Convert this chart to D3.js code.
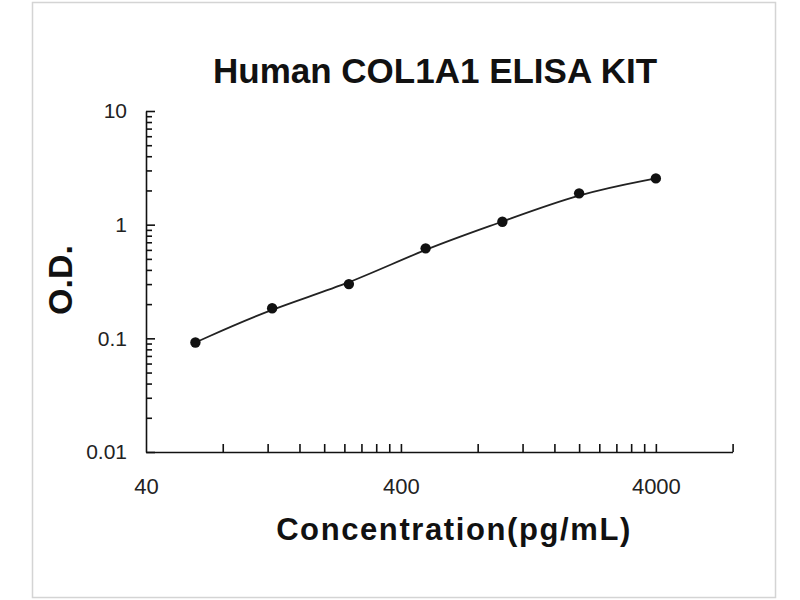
<!DOCTYPE html>
<html>
<head>
<meta charset="utf-8">
<script src="https://cdn.jsdelivr.net/npm/d3@7"></script>
<style>
  body { margin: 0; background: #fff; }
  svg text { font-family: "Liberation Sans", Arial, sans-serif; }
  .axis path, .axis line { stroke: #111; stroke-width: 1.6; }
</style>
</head>
<body>
<svg id="chart" width="800" height="600"></svg>
<script>
// Standard curve values
const concentration = [62.5, 125, 250, 500, 1000, 2000, 4000];
const od = [0.092, 0.184, 0.300, 0.619, 1.06, 1.885, 2.554];
const xTickLabels = [40, 400, 4000];
const yTickLabels = [0.01, 0.1, 1, 10];
const xDomain = [40, 8000];
const yDomain = [0.01, 10];

const svg = d3.select("#chart");

// Light frame round the whole picture
svg.append("rect")
    .attr("x", 32.5).attr("y", 2.5)
    .attr("width", 743).attr("height", 595)
    .attr("fill", "#fff")
    .attr("stroke", "#d4d4d4")
    .attr("stroke-width", 1.5);

// Set the ranges
let x = d3.scaleLog().domain(xDomain).range([146, 732.6]);
let y = d3.scaleLog().domain(yDomain).range([452, 111]);

// minor tick positions: k * decade start
let xMinor = [];
xTickLabels.forEach(function(d) {
    for (let k = 2; k <= 10; k++) {
        let v = d * k;
        if (v <= xDomain[1]) xMinor.push(v);
    }
});
let yMinor = [];
yTickLabels.slice(0, -1).forEach(function(d) {
    for (let k = 2; k <= 9; k++) yMinor.push(d * k);
});

// x axis: ticks pointing up into the plot
svg.append("g")
    .attr("class", "x axis")
    .attr("transform", "translate(0,452)")
    .call(d3.axisBottom(x).tickValues(xMinor).tickSizeInner(-8).tickSizeOuter(0).tickFormat(""));

svg.append("g")
    .attr("transform", "translate(0,452)")
    .call(d3.axisBottom(x).tickValues(xTickLabels).tickSize(0).tickPadding(26).tickFormat(d3.format("d")))
    .call(g => g.select(".domain").remove())
    .selectAll("text")
    .attr("font-size", 22)
    .attr("fill", "#222");

// y axis: major and minor ticks pointing right
svg.append("g")
    .attr("class", "y axis")
    .attr("transform", "translate(146,0)")
    .call(d3.axisLeft(y).tickValues(yMinor).tickSizeInner(-6).tickSizeOuter(0).tickFormat(""));

svg.append("g")
    .attr("class", "y axis")
    .attr("transform", "translate(146,0)")
    .call(d3.axisLeft(y).tickValues(yTickLabels).tickSizeInner(-9).tickSizeOuter(0).tickPadding(19)
        .tickFormat(function(d) { return String(d); }))
    .call(g => g.select(".domain").remove())
    .selectAll("text")
    .attr("font-size", 21)
    .attr("fill", "#222");

// the smoothed standard curve
let data = concentration.map(function(c, i) { return {conc: c, od: od[i]}; });
let valueline = d3.line()
    .x(function(d) { return x(d.conc); })
    .y(function(d) { return y(d.od); })
    .curve(d3.curveBasis);

svg.append("path")
    .datum(data)
    .attr("fill", "none")
    .attr("stroke", "#222")
    .attr("stroke-width", 1.8)
    .attr("d", valueline);

svg.selectAll(".dot")
    .data(data)
    .enter().append("circle")
    .attr("class", "dot")
    .attr("cx", function(d) { return x(d.conc); })
    .attr("cy", function(d) { return y(d.od); })
    .attr("r", 5.2)
    .attr("fill", "#111");

// Titles
svg.append("text")
    .attr("x", 435).attr("y", 83)
    .attr("text-anchor", "middle")
    .attr("font-size", 35)
    .attr("font-weight", "bold")
    .attr("fill", "#111")
    .text("Human COL1A1 ELISA KIT");

svg.append("text")
    .attr("x", 454).attr("y", 540)
    .attr("text-anchor", "middle")
    .attr("font-size", 31)
    .attr("font-weight", "bold")
    .attr("letter-spacing", 1.6)
    .attr("fill", "#111")
    .text("Concentration(pg/mL)");

svg.append("text")
    .attr("transform", "translate(72,280) rotate(-90)")
    .attr("text-anchor", "middle")
    .attr("font-size", 34)
    .attr("font-weight", "bold")
    .attr("fill", "#111")
    .text("O.D.");
</script>
</body>
</html>
